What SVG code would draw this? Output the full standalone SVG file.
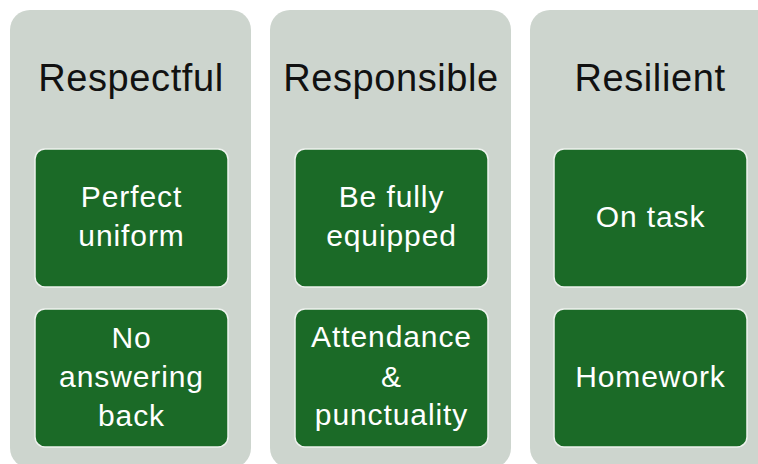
<svg xmlns="http://www.w3.org/2000/svg" width="758" height="464" viewBox="0 0 758 464">
<style>
.panel{fill:#cdd5ce;}
.box{fill:#1b6a27;stroke:#eef2ee;stroke-width:1.5;}
.h{font-family:"Liberation Sans",Arial,sans-serif;font-size:38px;letter-spacing:0.6px;fill:#111;text-anchor:middle;}
.t{font-family:"Liberation Sans",Arial,sans-serif;font-size:30px;letter-spacing:0.9px;fill:#fff;text-anchor:middle;}
</style>
<rect x="0" y="0" width="758" height="464" fill="#ffffff"/>
<g id="respectful">
<rect class="panel" x="10" y="10" width="241" height="458" rx="20"/>
<text class="h" x="131" y="91">Respectful</text>
</g>
<g id="responsible">
<rect class="panel" x="270" y="10" width="241" height="458" rx="20"/>
<text class="h" x="391" y="91">Responsible</text>
</g>
<g id="resilient">
<rect class="panel" x="530" y="10" width="250" height="458" rx="20"/>
<text class="h" x="650" y="91">Resilient</text>
</g>
<g id="perfect-uniform">
<rect class="box" x="35" y="149" width="193" height="138" rx="10"/>
<text class="t" x="131.5" y="207">Perfect</text>
<text class="t" x="131.5" y="246">uniform</text>
</g>
<g id="no-answering-back">
<rect class="box" x="35" y="309" width="193" height="138" rx="10"/>
<text class="t" x="131.5" y="348">No</text>
<text class="t" x="131.5" y="387">answering</text>
<text class="t" x="131.5" y="426">back</text>
</g>
<g id="be-fully-equipped">
<rect class="box" x="295" y="149" width="193" height="138" rx="10"/>
<text class="t" x="391.5" y="207">Be fully</text>
<text class="t" x="391.5" y="246">equipped</text>
</g>
<g id="attendance">
<rect class="box" x="295" y="309" width="193" height="138" rx="10"/>
<text class="t" x="391.5" y="347">Attendance</text>
<text class="t" x="391.5" y="387">&amp;</text>
<text class="t" x="391.5" y="425">punctuality</text>
</g>
<g id="on-task">
<rect class="box" x="554" y="149" width="193" height="138" rx="10"/>
<text class="t" x="650.5" y="227">On task</text>
</g>
<g id="homework">
<rect class="box" x="554" y="309" width="193" height="138" rx="10"/>
<text class="t" x="650.5" y="387">Homework</text>
</g>
<g id="connectors"></g>
</svg>
